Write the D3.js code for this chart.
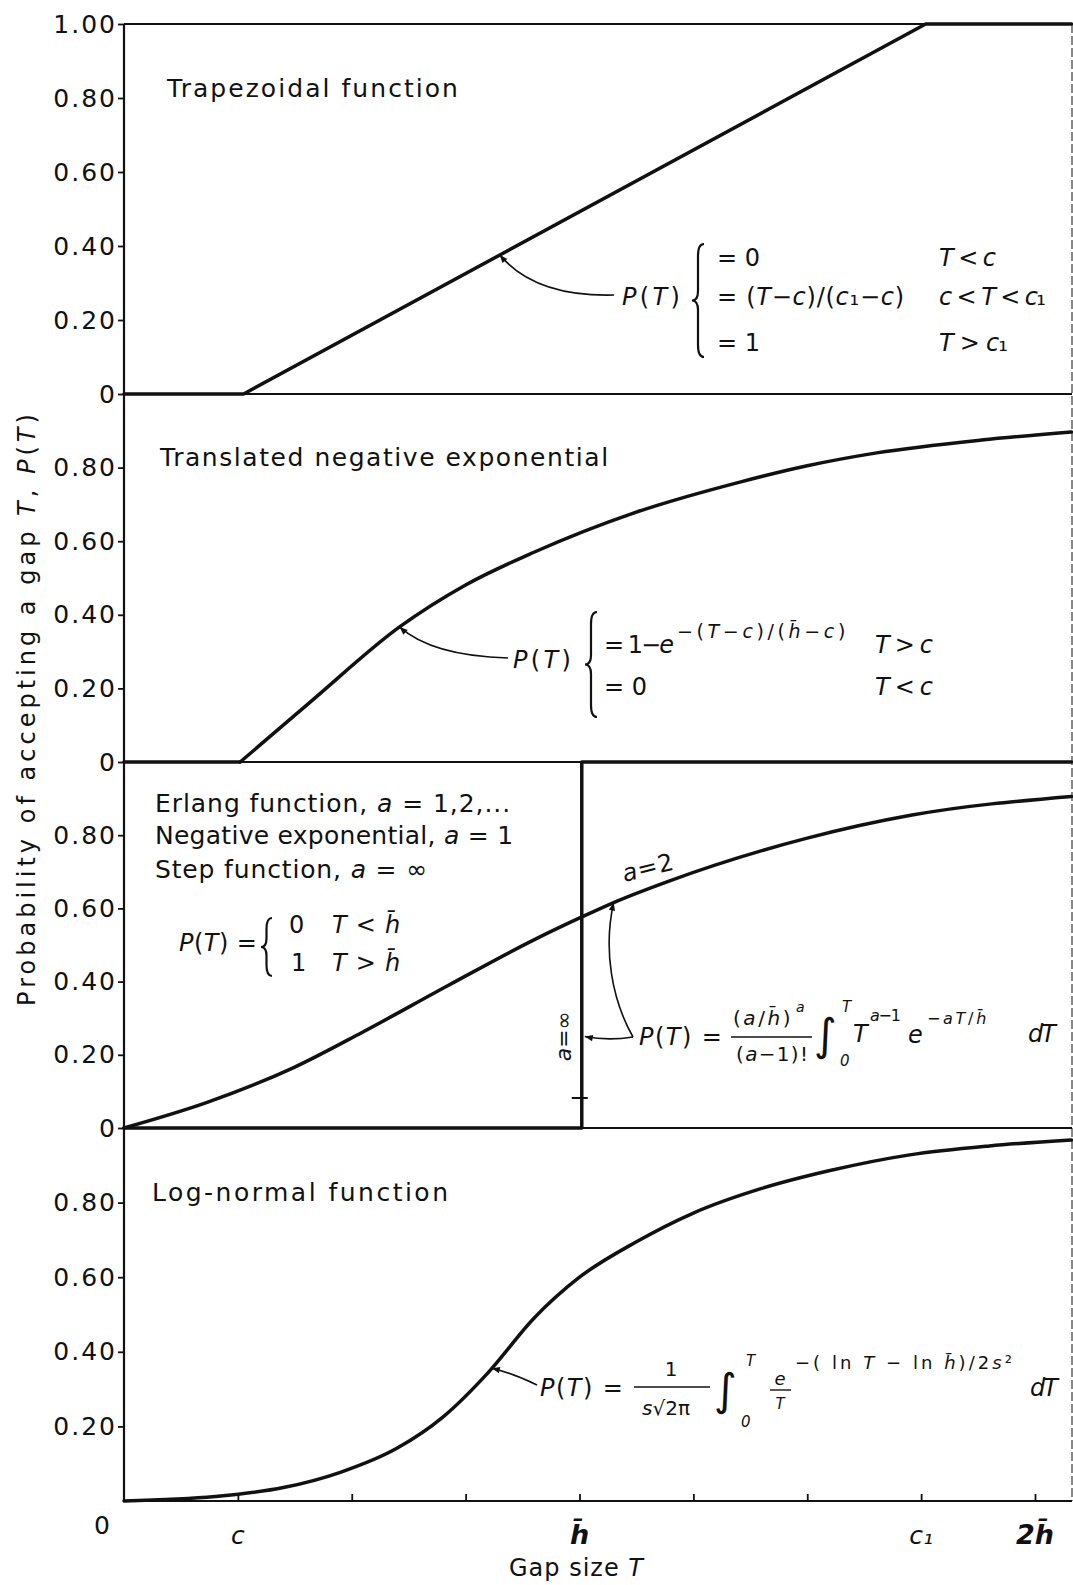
<!DOCTYPE html>
<html><head><meta charset="utf-8">
<script src="https://cdn.jsdelivr.net/npm/d3@7/dist/d3.min.js"></script>
<style>
html,body{margin:0;padding:0;background:#fff;}
svg{display:block;}
</style></head>
<body><svg id="c" width="1073" height="1585"></svg>
<script>
// ---------------- data ----------------
const xTickValues = [0, 1, 2, 3, 4, 5, 6, 7, 8];
const xTickLabels = ["0", "c", "", "", "h\u0304", "", "", "c\u2081", "2h\u0304"];
const yTickValues = [0, 0.2, 0.4, 0.6, 0.8, 1.0];
const yTickLabels = ["0", "0.20", "0.40", "0.60", "0.80", "1.00"];
const panelTitles = ["Trapezoidal function", "Translated negative exponential", "Log-normal function"];
const erlangLines = ["Erlang function, *a* = 1,2,...", "Negative exponential, *a* = 1", "Step function, *a* = \u221e"];

// Trapezoidal
const trapT = [0, 1.05, 7.04, 8.32];
const trapP = [0, 0, 1, 1];
// Translated negative exponential
const tnegFlatT = [0, 1.02];
const tnegFlatP = [0, 0];
const tnegT = [1.02, 1.64, 2.42, 3.0, 3.6, 4.48, 5.4, 6.0, 6.61, 7.53, 8.32];
const tnegP = [0, 0.164, 0.367, 0.481, 0.57, 0.677, 0.76, 0.805, 0.84, 0.875, 0.897];
// Erlang a = 2
const erlT = [0, 0.73, 1.49, 2.09, 2.85, 3.6, 4.03, 4.3, 4.78, 6.0, 6.92, 8.32];
const erlP = [0, 0.07, 0.165, 0.261, 0.39, 0.514, 0.578, 0.616, 0.674, 0.792, 0.855, 0.906];
// Step function a = infinity
const stepT = [0, 4.02, 4.02, 8.32];
const stepP = [0, 0, 1, 1];
// Log-normal
const lognT = [0, 0.8, 1.4, 1.9, 2.4, 2.8, 3.2, 3.6, 4.0, 4.5, 5.0, 5.6, 6.2, 6.9, 7.6, 8.32];
const lognP = [0, 0.012, 0.036, 0.077, 0.142, 0.225, 0.345, 0.49, 0.6, 0.695, 0.772, 0.838, 0.886, 0.928, 0.952, 0.968];
// annotation targets (T, P)
const annotTips = [[3.3, 0.376], [2.42, 0.367], [4.3, 0.616], [3.23, 0.356]];
const stepArrowP = 0.25;
const stepMarkP = 0.082;

// ---------------- layout ----------------
const FONT = '"DejaVu Sans", "Liberation Sans", sans-serif';
const INK = "#111";
const svg = d3.select("#c");
svg.append("rect").attr("width", 1073).attr("height", 1585).attr("fill", "#fff");
const x = d3.scaleLinear().domain([0, 8]).range([124, 1035]);
const bounds = [24, 394, 762, 1128, 1501];
const ys = [0, 1, 2, 3].map(i => d3.scaleLinear().domain([0, 1]).range([bounds[i + 1], bounds[i]]));
const RIGHT = 1072;
const g = svg.append("g").attr("font-family", FONT);

function fit(t, w) {
  const L = t.node().getComputedTextLength();
  const n = [...t.text()].length;
  if (n > 1) t.attr("letter-spacing", ((w - L) / (n - 1)).toFixed(2));
}
function rich(parent, px, py, str, size, opts = {}) {
  const t = parent.append("text").attr("x", px).attr("y", py)
    .attr("font-size", size).attr("fill", INK).attr("font-family", FONT);
  if (opts.anchor) t.attr("text-anchor", opts.anchor);
  if (opts.weight) t.attr("font-weight", opts.weight);
  if (opts.transform) t.attr("transform", opts.transform);
  str.split("*").forEach((s, i) => {
    if (!s) return;
    t.append("tspan").attr("font-style", i % 2 ? "italic" : "normal").text(s);
  });
  if (opts.width) fit(t, opts.width);
  return t;
}
function brace(x0, y1, y2, w) {
  const xm = x0 + w / 2, ym = (y1 + y2) / 2;
  return `M${x0 + w},${y1} Q${xm},${y1} ${xm},${y1 + w} L${xm},${ym - w * 0.8} Q${xm},${ym} ${x0},${ym} ` +
         `Q${xm},${ym} ${xm},${ym + w * 0.8} L${xm},${y2 - w} Q${xm},${y2} ${x0 + w},${y2}`;
}
function hline(x1, x2, y, sw) {
  g.append("line").attr("x1", x1).attr("x2", x2).attr("y1", y).attr("y2", y)
    .attr("stroke", INK).attr("stroke-width", sw);
}

// ---------------- frame ----------------
bounds.forEach(b => hline(x(0), RIGHT, b, 2));
g.append("line").attr("x1", x(0)).attr("x2", x(0)).attr("y1", bounds[0]).attr("y2", bounds[4])
  .attr("stroke", INK).attr("stroke-width", 2.2);
g.append("line").attr("x1", RIGHT).attr("x2", RIGHT).attr("y1", bounds[0]).attr("y2", bounds[4])
  .attr("stroke", INK).attr("stroke-width", 1).attr("stroke-dasharray", "9,3");

// ---------------- y axes ----------------
ys.forEach((y, i) => {
  const vals = i === 0 ? yTickValues : (i === 3 ? yTickValues.slice(1, 5) : yTickValues.slice(0, 5));
  const ax = d3.axisLeft(y).tickValues(vals).tickSize(6).tickPadding(1)
    .tickFormat(d => yTickLabels[yTickValues.indexOf(d)]);
  const ga = g.append("g").attr("transform", `translate(${x(0)},0)`).call(ax);
  ga.select(".domain").remove();
  ga.selectAll("text").attr("font-size", 25).attr("font-family", FONT).attr("fill", INK).attr("letter-spacing", 2);
  ga.selectAll("line").attr("stroke", INK).attr("stroke-width", 1.8);
});

// ---------------- x axis ----------------
const axb = d3.axisBottom(x).tickValues(xTickValues.slice(1)).tickSize(-7).tickFormat("");
const gx = g.append("g").attr("transform", `translate(0,${bounds[4]})`).call(axb);
gx.select(".domain").remove();
gx.selectAll("line").attr("stroke", INK).attr("stroke-width", 1.8);

const xl = xTickValues.map((v, i) => ({ v, s: xTickLabels[i] })).filter(d => d.s !== "");
g.selectAll("text.xl").data(xl).join("text").attr("class", "xl")
  .attr("x", d => d.v === 0 ? x(d.v) - 22 : x(d.v))
  .attr("y", d => d.v === 0 ? 1534 : 1544)
  .attr("text-anchor", "middle")
  .attr("font-family", FONT).attr("font-size", d => d.s.includes("h") ? 27 : 25)
  .attr("font-style", d => d.v === 0 ? "normal" : "italic")
  .attr("font-weight", d => d.s.includes("h") ? "bold" : "normal")
  .attr("fill", INK)
  .text(d => d.s);

rich(g, 509, 1576, "Gap size  *T*", 24, { width: 135 });
rich(g, 0, 0, "Probability of accepting a gap *T*, *P*(*T*)", 24,
  { anchor: "middle", transform: "translate(35,708) rotate(-90)", width: 592 });

// ---------------- curves ----------------
function drawCurve(yS, T, P, curve, sw) {
  g.append("path").datum(d3.zip(T, P))
    .attr("d", d3.line().x(d => x(d[0])).y(d => yS(d[1])).curve(curve))
    .attr("fill", "none").attr("stroke", INK).attr("stroke-width", sw)
    .attr("stroke-linejoin", "round").attr("stroke-linecap", "round");
}
drawCurve(ys[0], trapT, trapP, d3.curveLinear, 3.5);
drawCurve(ys[1], tnegFlatT, tnegFlatP, d3.curveLinear, 3.5);
drawCurve(ys[1], tnegT, tnegP, d3.curveMonotoneX, 3.5);
drawCurve(ys[2], erlT, erlP, d3.curveMonotoneX, 3.5);
drawCurve(ys[2], stepT, stepP, d3.curveLinear, 3.5);
drawCurve(ys[3], lognT, lognP, d3.curveMonotoneX, 3.5);

// mark on step line
g.append("line").attr("x1", x(stepT[1]) - 10).attr("x2", x(stepT[1]) + 6)
  .attr("y1", ys[2](stepMarkP)).attr("y2", ys[2](stepMarkP)).attr("stroke", INK).attr("stroke-width", 2);

// ---------------- annotation arrows ----------------
const defs = svg.append("defs");
defs.append("marker").attr("id", "arr").attr("viewBox", "0 0 10 10")
  .attr("refX", 10).attr("refY", 5).attr("markerWidth", 6).attr("markerHeight", 5)
  .attr("orient", "auto-start-reverse")
  .append("path").attr("d", "M0,1 L10,5 L0,9 z").attr("fill", INK);
function arrow(d) {
  g.append("path").attr("d", d).attr("fill", "none").attr("stroke", INK)
    .attr("stroke-width", 1.6).attr("marker-start", "url(#arr)");
}
{
  const [t0, p0] = annotTips[0];
  arrow(`M${x(t0)},${ys[0](p0)} Q535,297 614,295`);
  const [t1, p1] = annotTips[1];
  arrow(`M${x(t1)},${ys[1](p1)} Q432,656 508,658`);
  arrow(`M${x(stepT[1]) + 3},${ys[2](stepArrowP)} Q608,1041 633,1037`);
  const [t2, p2] = annotTips[2];
  arrow(`M${x(t2)},${ys[2](p2)} C603,950 612,1000 633,1037`);
  const [t3, p3] = annotTips[3];
  arrow(`M${x(t3)},${ys[3](p3)} Q512,1373 537,1385`);
}

// ---------------- panel 1 texts ----------------
rich(g, 167, 97, panelTitles[0], 25, { width: 291 });
rich(g, 622, 305, "*P*(*T*)", 24, { width: 58 });
g.append("path").attr("d", brace(692, 244, 357, 12)).attr("fill", "none").attr("stroke", INK).attr("stroke-width", 2.2);
rich(g, 717, 266, "= 0", 24);
rich(g, 717, 305, "= (*T*\u2212*c*)/(*c*\u2081\u2212*c*)", 24, { width: 187 });
rich(g, 717, 351, "= 1", 24);
rich(g, 939, 266, "*T* < *c*", 24, { width: 57 });
rich(g, 939, 305, "*c* < *T* < *c*\u2081", 24, { width: 107 });
rich(g, 939, 351, "*T* > *c*\u2081", 24, { width: 69 });

// ---------------- panel 2 texts ----------------
rich(g, 160, 466, panelTitles[1], 25, { width: 448 });
rich(g, 513, 668, "*P*(*T*)", 24, { width: 58 });
g.append("path").attr("d", brace(585, 612, 717, 12)).attr("fill", "none").attr("stroke", INK).attr("stroke-width", 2.2);
rich(g, 604, 653, "= 1\u2212*e*", 24, { width: 70 });
rich(g, 677, 638, "\u2212(*T*\u2212*c*)/(*h\u0304*\u2212*c*)", 19, { width: 172 });
rich(g, 604, 695, "= 0", 24);
rich(g, 875, 653, "*T* > *c*", 24, { width: 58 });
rich(g, 875, 695, "*T* < *c*", 24, { width: 58 });

// ---------------- panel 3 texts ----------------
rich(g, 155, 812, erlangLines[0], 25, { width: 355 });
rich(g, 155, 844, erlangLines[1], 25, { width: 358 });
rich(g, 155, 878, erlangLines[2], 25, { width: 272 });
rich(g, 179, 951, "*P*(*T*) =", 24, { width: 78 });
g.append("path").attr("d", brace(261, 918, 976, 11)).attr("fill", "none").attr("stroke", INK).attr("stroke-width", 2.2);
rich(g, 289, 933, "0", 24);
rich(g, 332, 933, "*T* < *h\u0304*", 24, { width: 69 });
rich(g, 291, 971, "1", 24);
rich(g, 332, 971, "*T* > *h\u0304*", 24, { width: 69 });
rich(g, 0, 0, "*a* = 2", 24, { anchor: "middle", transform: "translate(648,876) rotate(-14)", width: 52 });
rich(g, 0, 0, "*a* = \u221e", 22, { anchor: "middle", transform: "translate(571,1038) rotate(-90)", width: 50 });

// Erlang formula
rich(g, 639, 1045, "*P*(*T*) =", 24, { width: 83 });
rich(g, 733, 1025, "(*a*/*h\u0304*)", 20, { width: 60 });
rich(g, 796, 1012, "*a*", 14);
hline(731, 812, 1037, 1.6);
rich(g, 736, 1061, "(*a*\u22121)!", 20, { width: 72 });
rich(g, 814, 1050, "\u222b", 44);
rich(g, 842, 1012, "*T*", 15);
rich(g, 840, 1066, "*0*", 15);
rich(g, 853, 1042, "*T*", 24);
rich(g, 870, 1021, "*a*\u22121", 16, { width: 31 });
rich(g, 908, 1043, "*e*", 24);
rich(g, 927, 1024, "\u2212*aT*/*h\u0304*", 16, { width: 62 });
rich(g, 1028, 1042, "*dT*", 24, { width: 28 });

// ---------------- panel 4 texts ----------------
rich(g, 152, 1201, panelTitles[2], 25, { width: 296 });
rich(g, 540, 1396, "*P*(*T*) =", 24, { width: 83 });
rich(g, 671, 1376, "1", 20, { anchor: "middle" });
hline(634, 710, 1387, 1.6);
rich(g, 642, 1415, "*s*\u221a2\u03c0", 20);
rich(g, 714, 1405, "\u222b", 44);
rich(g, 746, 1366, "*T*", 15);
rich(g, 741, 1427, "*0*", 15);
rich(g, 780, 1385, "*e*", 18, { anchor: "middle" });
hline(770, 791, 1390, 1.4);
rich(g, 780, 1409, "*T*", 15, { anchor: "middle" });
rich(g, 795, 1369, "\u2212( ln *T* \u2212 ln *h\u0304*)/2*s*\u00b2", 18, { width: 220 });
rich(g, 1030, 1396, "*dT*", 24, { width: 28 });
</script>
</body></html>
